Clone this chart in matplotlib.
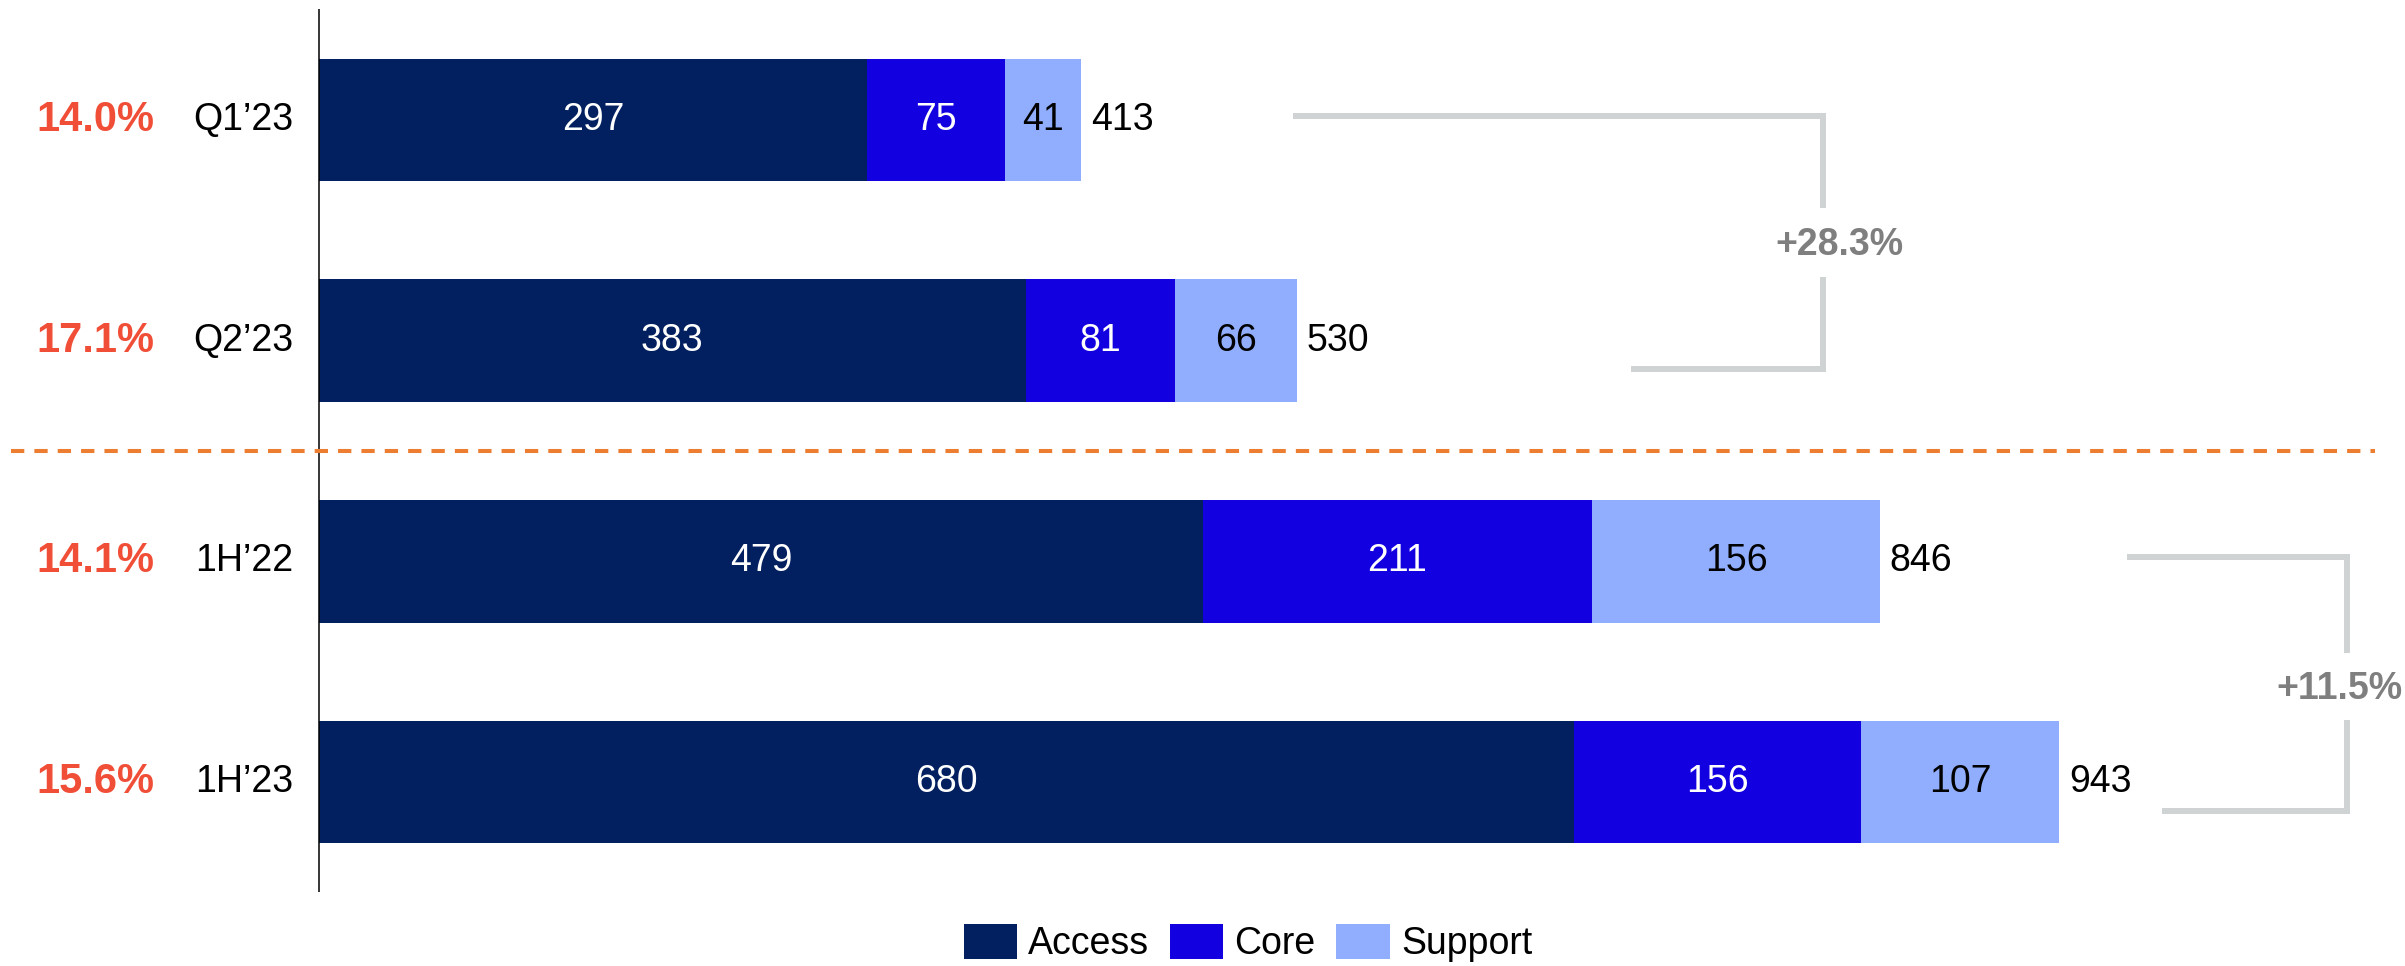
import matplotlib
matplotlib.use("Agg")
import matplotlib.pyplot as plt
from matplotlib.patches import Patch

plt.rcParams['font.family'] = ['Liberation Sans', 'DejaVu Sans']

# ---- data ----
categories = ["Q1\u201923", "Q2\u201923", "1H\u201922", "1H\u201923"]
margins = ["14.0%", "17.1%", "14.1%", "15.6%"]
access = [297, 383, 479, 680]
core = [75, 81, 211, 156]
support = [41, 66, 156, 107]
totals = [413, 530, 846, 943]
series_names = ["Access", "Core", "Support"]
growth_labels = ["+28.3%", "+11.5%"]

# ---- style ----
C_ACCESS = "#02205F"
C_CORE = "#1200E0"
C_SUPPORT = "#91ADFD"
C_RED = "#F04E37"
C_GREY_TXT = "#7F7F7F"
C_BRACKET = "#D0D3D4"
C_DASH = "#ED7D31"

W, H, DPI = 2405, 966, 100
fig = plt.figure(figsize=(W / DPI, H / DPI), dpi=DPI)
ax = fig.add_axes([0, 0, 1, 1])

# axis scaling: value 0 sits at x=319px, 1.845 px per unit; rows 220.7 px apart
px_per_unit = 1.845
x0_px = 319
ax.set_xlim(-x0_px / px_per_unit, (W - x0_px) / px_per_unit)
row_px = 220.7
top_px = 120
ax.set_ylim((H - top_px) / row_px, -top_px / row_px)
ax.axis("off")

ypos = list(range(len(categories)))
bar_h = 0.556
FS = 27

left_core = [a for a in access]
left_sup = [a + c for a, c in zip(access, core)]

ax.barh(ypos, access, height=bar_h, color=C_ACCESS, label=series_names[0])
ax.barh(ypos, core, left=left_core, height=bar_h, color=C_CORE, label=series_names[1])
ax.barh(ypos, support, left=left_sup, height=bar_h, color=C_SUPPORT, label=series_names[2])

# segment labels
for i in ypos:
    ax.text(access[i] / 2, i, str(access[i]), color="white", fontsize=FS,
            ha="center", va="center")
    ax.text(left_core[i] + core[i] / 2, i, str(core[i]), color="white", fontsize=FS,
            ha="center", va="center")
    ax.text(left_sup[i] + support[i] / 2, i, str(support[i]), color="black", fontsize=FS,
            ha="center", va="center")
    ax.text(totals[i] + 10 / px_per_unit, i, str(totals[i]), color="black", fontsize=FS,
            ha="left", va="center")
    # category and margin labels on the left
    ax.text(-26 / px_per_unit, i, categories[i], color="black", fontsize=FS,
            ha="right", va="center", clip_on=False)
    ax.text(-165 / px_per_unit, i, margins[i], color=C_RED, fontsize=30,
            fontweight="bold", ha="right", va="center", clip_on=False)

# vertical baseline
ax.plot([0, 0], [-0.503, 3.50], color="black", lw=1.1, solid_capstyle="butt")

# dashed separator between quarters and half-years
ax.plot([-308 / px_per_unit, 2056 / px_per_unit], [1.5, 1.5], color=C_DASH, lw=2.9,
        dashes=(3.3, 2.5), clip_on=False)

# growth brackets:
# (top row, bottom row, top start, bottom start, vertical x, gap lo, gap hi, label x, label ha)
brackets = [
    (0, 1, 528, 711, 815, 0.40, 0.71, 824, "center"),
    (2, 3, 980, 999, 1099, 2.415, 2.72, 1129, "right"),
]
for (r0, r1, xs_top, xs_bot, xv, g0, g1, xl, ha), lab in zip(brackets, growth_labels):
    y_top = r0 - 0.02
    y_bot = r1 + 0.13
    kw = dict(color=C_BRACKET, lw=4.3, solid_capstyle="butt", solid_joinstyle="miter")
    ax.plot([xs_top, xv, xv], [y_top, y_top, g0], **kw)
    ax.plot([xv, xv, xs_bot], [g1, y_bot, y_bot], **kw)
    ax.text(xl, (g0 + g1) / 2 + 0.01, lab, color=C_GREY_TXT, fontsize=FS, fontweight="bold",
            ha=ha, va="center")

# legend
handles = [Patch(facecolor=c, edgecolor="none") for c in (C_ACCESS, C_CORE, C_SUPPORT)]
fig.legend(handles, series_names, loc="center", ncol=3, frameon=False,
           bbox_to_anchor=(1248 / W, 1 - 943 / H), fontsize=FS,
           handlelength=1.42, handleheight=1.07, handletextpad=0.3,
           columnspacing=0.55, borderpad=0)

fig.savefig("out.png", dpi=DPI, facecolor="white")
